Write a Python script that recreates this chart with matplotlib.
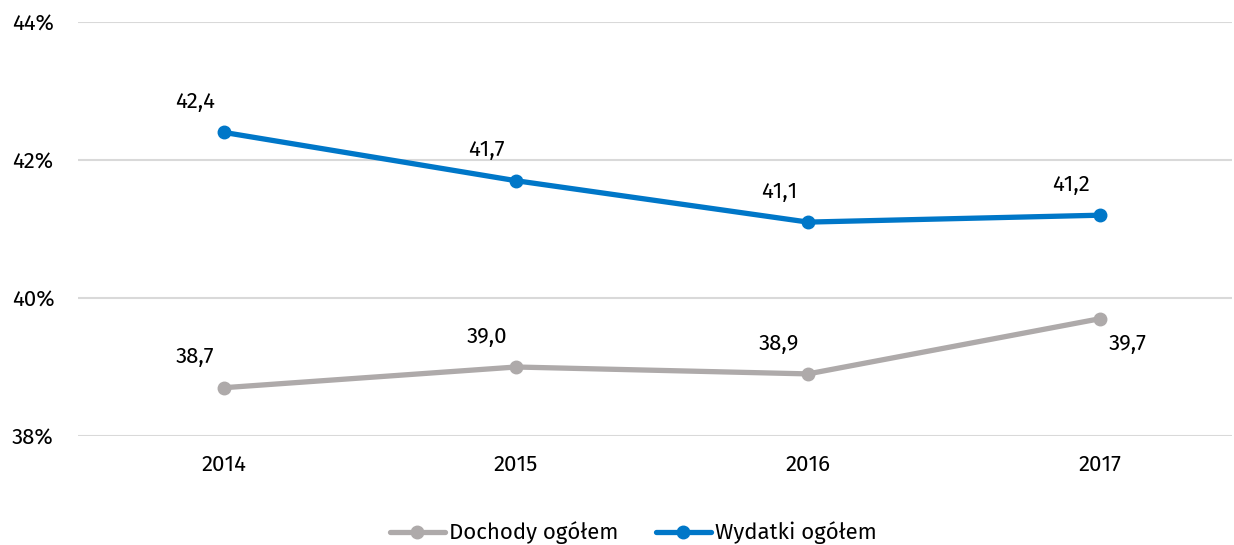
import matplotlib.pyplot as plt
from matplotlib.ticker import FuncFormatter

years = ["2014", "2015", "2016", "2017"]
dochody = [38.7, 39.0, 38.9, 39.7]
wydatki = [42.4, 41.7, 41.1, 41.2]

plt.rcParams["font.family"] = ["Fira Sans", "Noto Sans", "DejaVu Sans"]


def main():
    fig = plt.figure(figsize=(12.34, 5.45), dpi=100)
    ax = fig.add_axes([78 / 1234, 1 - 436 / 545, (1232 - 78) / 1234, (436 - 22) / 545])

    x = list(range(len(years)))
    grey = "#AEAAAA"
    blue = "#0077C8"
    fs = 16

    ax.plot(x, dochody, color=grey, lw=3.8, marker="o", ms=9, label="Dochody ogółem",
            solid_capstyle="round")
    ax.plot(x, wydatki, color=blue, lw=3.8, marker="o", ms=9, label="Wydatki ogółem",
            solid_capstyle="round")

    # data labels
    for i, v in enumerate(wydatki):
        ax.annotate(f"{v:.1f}".replace(".", ","), (i, v), xytext=(-21, 22),
                    textcoords="offset points", ha="center", va="center", fontsize=fs)
    for i, v in enumerate(dochody):
        if i == len(dochody) - 1:
            off = (20, -18)
        else:
            off = (-21, 22)
        ax.annotate(f"{v:.1f}".replace(".", ","), (i, v), xytext=off,
                    textcoords="offset points", ha="center", va="center", fontsize=fs)

    ax.set_ylim(38, 44)
    ax.set_yticks([38, 40, 42, 44])
    ax.yaxis.set_major_formatter(FuncFormatter(lambda v, p: f"{v:.0f}%"))
    ax.set_xlim(-0.5, 3.452)
    ax.set_xticks(x)
    ax.set_xticklabels(years)
    ax.tick_params(length=0, labelsize=fs)
    ax.tick_params(axis="x", pad=13)
    ax.tick_params(axis="y", pad=47.5)
    for lbl in ax.get_yticklabels():
        lbl.set_horizontalalignment("left")

    ax.grid(axis="y", color="#D9D9D9", lw=1.5)
    ax.set_axisbelow(True)
    for s in ax.spines.values():
        s.set_visible(False)

    ax.legend(loc="lower center", bbox_to_anchor=(0.5 - 22 / 1154, -0.31), ncol=2, frameon=False,
              fontsize=fs, handlelength=2.5, handletextpad=0.15, columnspacing=1.7)

    fig.savefig("out.png", dpi=100)


if __name__ == "__main__":
    main()
